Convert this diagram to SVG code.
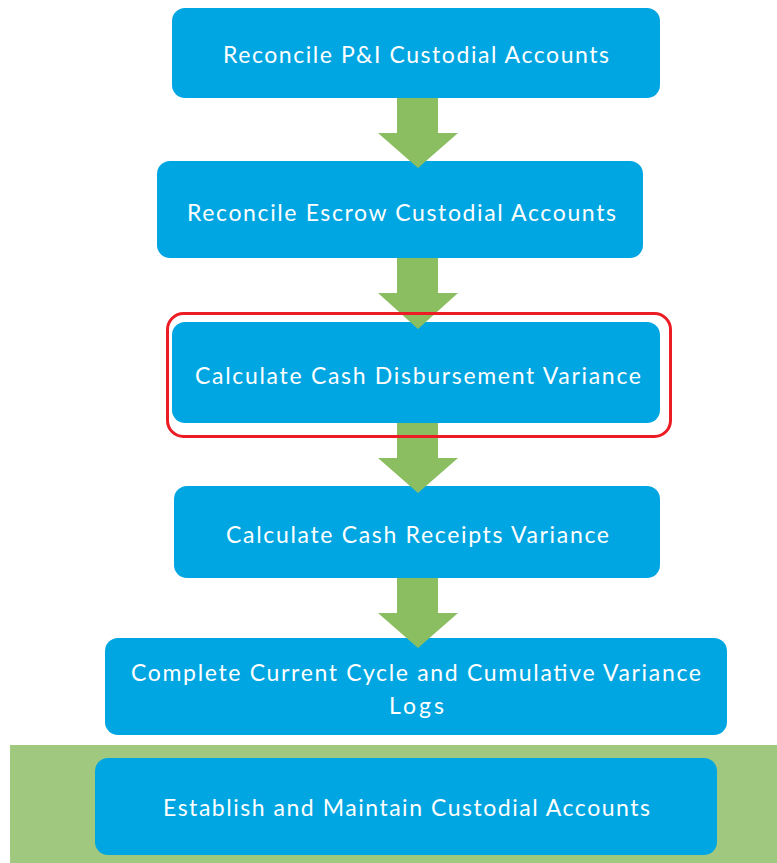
<svg xmlns="http://www.w3.org/2000/svg" width="777" height="863" viewBox="0 0 777 863">
<style>
.box{fill:#00A6E1;}
.arrow{fill:#8BBE61;}
.t{font-family:Lato,"Liberation Sans",sans-serif;font-size:23px;fill:#FFFFFF;text-anchor:middle;}
</style>
<rect x="0" y="0" width="777" height="863" fill="#FFFFFF"/>
<rect x="10" y="745" width="767" height="118" fill="#A0C97F"/>
<g id="n1"><rect class="box" x="172" y="8" width="488" height="90" rx="13"/><text class="t" x="416" y="63" textLength="386" lengthAdjust="spacing">Reconcile P&amp;I Custodial Accounts</text></g>
<g id="n2"><rect class="box" x="157" y="161" width="486" height="97" rx="13"/><text class="t" x="401.5" y="221" textLength="429" lengthAdjust="spacing">Reconcile Escrow Custodial Accounts</text></g>
<g id="n3"><rect class="box" x="172" y="322" width="488" height="101" rx="13"/><text class="t" x="418" y="384" textLength="446" lengthAdjust="spacing">Calculate Cash Disbursement Variance</text></g>
<g id="n4"><rect class="box" x="174" y="486" width="486" height="92" rx="13"/><text class="t" x="417.5" y="543" textLength="383" lengthAdjust="spacing">Calculate Cash Receipts Variance</text></g>
<g id="n5"><rect class="box" x="105" y="638" width="622" height="97" rx="13"/><text class="t" x="416" y="681" textLength="570" lengthAdjust="spacing">Complete Current Cycle and Cumulative Variance</text><text class="t" x="416.5" y="714" textLength="55" lengthAdjust="spacing">Logs</text></g>
<g id="n6"><rect class="box" x="95" y="758" width="622" height="97" rx="13"/><text class="t" x="406.5" y="816" textLength="487" lengthAdjust="spacing">Establish and Maintain Custodial Accounts</text></g>
<g id="connectors">
<polygon class="arrow" points="397,98 438,98 438,133 458,133 418,168 378,133 397,133"/>
<polygon class="arrow" points="397,258 438,258 438,293 458,293 418,329 378,293 397,293"/>
<polygon class="arrow" points="397,423 438,423 438,458 458,458 418,493 378,458 397,458"/>
<polygon class="arrow" points="397,578 438,578 438,613 458,613 418,648 378,613 397,613"/>
</g>
<g id="highlight"><rect x="167.5" y="313.5" width="503" height="123" rx="16" fill="none" stroke="#EC1C24" stroke-width="3"/></g>
</svg>
